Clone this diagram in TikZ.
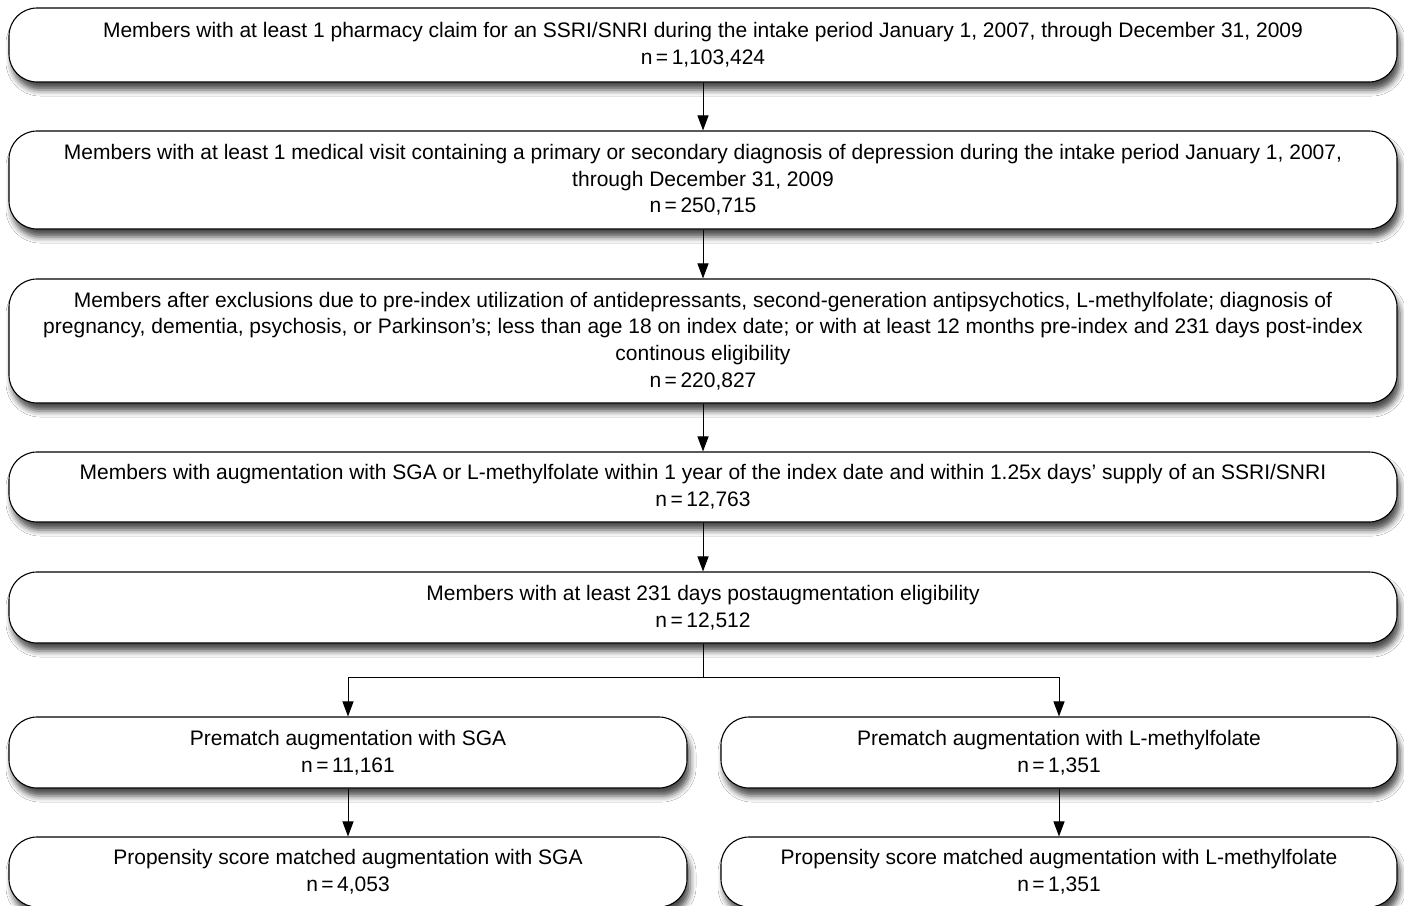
\documentclass[tikz,border=0pt]{standalone}
\usepackage{fontspec}
\setmainfont{Liberation Sans}
\usetikzlibrary{arrows.meta,shadows.blur}
\begin{document}
\begin{tikzpicture}[x=1pt,y=-1pt,
  box/.style={draw=black, line width=1.1pt, fill=white, rounded corners=28pt,
    inner sep=0pt, align=center, font=\fontsize{21}{26.7}\selectfont,
    blur shadow={shadow xshift=3pt, shadow yshift=-8pt, shadow blur radius=6pt, shadow opacity=70}},
  arr/.style={line width=1pt, -{Triangle[length=15pt,width=11pt]}},
  ln/.style={line width=1pt}]
\clip (0,0) rectangle (1404,905);
\fill[white] (0,0) rectangle (1404,905);
\node[box, minimum width=1388pt, minimum height=74pt] (b1) at (703,45)
  {Members with at least 1 pharmacy claim for an SSRI/SNRI during the intake period January 1, 2007, through December 31, 2009\\ n\,=\,1,103,424};
\node[box, minimum width=1388pt, minimum height=98pt] (b2) at (703,180)
  {Members with at least 1 medical visit containing a primary or secondary diagnosis of depression during the intake period January 1, 2007,\\ through December 31, 2009\\ n\,=\,250,715};
\node[box, minimum width=1388pt, minimum height=124pt] (b3) at (703,341)
  {Members after exclusions due to pre-index utilization of antidepressants, second-generation antipsychotics, L-methylfolate; diagnosis of\\ pregnancy, dementia, psychosis, or Parkinson’s; less than age 18 on index date; or with at least 12 months pre-index and 231 days post-index\\ continous eligibility\\ n\,=\,220,827};
\node[box, minimum width=1388pt, minimum height=70pt] (b4) at (703,487)
  {Members with augmentation with SGA or L-methylfolate within 1 year of the index date and within 1.25x days’ supply of an SSRI/SNRI\\ n\,=\,12,763};
\node[box, minimum width=1388pt, minimum height=71pt] (b5) at (703,607.5)
  {Members with at least 231 days postaugmentation eligibility\\ n\,=\,12,512};
\node[box, minimum width=678pt, minimum height=71pt] (b6l) at (348,752.5)
  {Prematch augmentation with SGA\\ n\,=\,11,161};
\node[box, minimum width=676pt, minimum height=71pt] (b6r) at (1059,752.5)
  {Prematch augmentation with L-methylfolate\\ n\,=\,1,351};
\node[box, minimum width=678pt, minimum height=70pt] (b7l) at (348,872)
  {Propensity score matched augmentation with SGA\\ n\,=\,4,053};
\node[box, minimum width=676pt, minimum height=70pt] (b7r) at (1059,872)
  {Propensity score matched augmentation with L-methylfolate\\ n\,=\,1,351};
\draw[arr] (b1) -- (b2);
\draw[arr] (b2) -- (b3);
\draw[arr] (b3) -- (b4);
\draw[arr] (b4) -- (b5);
\coordinate (split) at (703,677);
\draw[ln] (b5.south) -- (split);
\draw[arr] (split) -| (b6l.north);
\draw[arr] (split) -| (b6r.north);
\draw[arr] (b6l) -- (b7l);
\draw[arr] (b6r) -- (b7r);
\end{tikzpicture}
\end{document}
